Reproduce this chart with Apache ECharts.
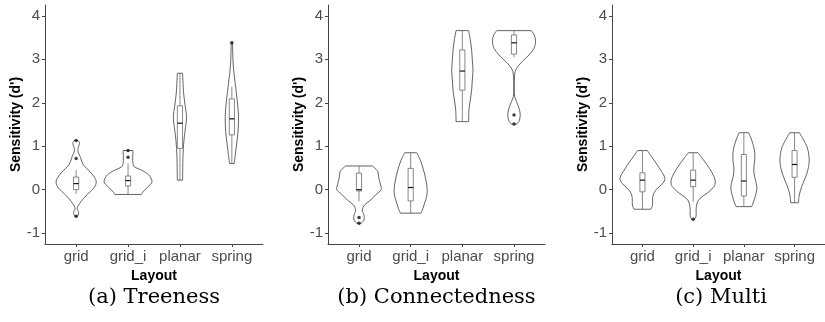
<!DOCTYPE html>
<html>
<head>
<meta charset="utf-8">
<script src="https://cdn.jsdelivr.net/npm/echarts@6/dist/echarts.min.js"></script>
<style>
  html, body { margin: 0; padding: 0; background: #fff; }
  #chart { width: 825px; height: 322px; }
</style>
</head>
<body>
<div id="chart"></div>
<script>
var categories = ['grid', 'grid_i', 'planar', 'spring'];
var yTicks = [-1, 0, 1, 2, 3, 4];
var captions = ['(a) Treeness', '(b) Connectedness', '(c) Multi'];

// violin outlines, top to bottom: [sensitivity, half width in category units]
var treenessViolins = [
  [[1.13, 0.04], [1.07, 0.064], [0.91, 0.032], [0.76, 0.077], [0.57, 0.141], [0.41, 0.27], [0.26, 0.366], [0.15, 0.385], [0.03, 0.334], [-0.12, 0.205], [-0.28, 0.09], [-0.43, 0.02], [-0.53, 0.051], [-0.61, 0.026]],
  [[0.90, 0.096], [0.75, 0.09], [0.60, 0.095], [0.52, 0.13], [0.45, 0.257], [0.34, 0.398], [0.18, 0.462], [0.07, 0.385], [-0.05, 0.289], [-0.11, 0.257]],
  [[2.68, 0.051], [2.22, 0.071], [1.91, 0.103], [1.68, 0.128], [1.45, 0.109], [1.14, 0.077], [0.76, 0.058], [0.22, 0.051]],
  [[3.38, 0.013], [2.87, 0.026], [2.45, 0.064], [2.06, 0.103], [1.68, 0.128], [1.30, 0.116], [0.91, 0.077], [0.60, 0.045]]
];
var connectedViolins = [
  [[0.545, 0.26], [0.47, 0.33], [0.415, 0.366], [0.26, 0.385], [0.11, 0.417], [0.0, 0.43], [-0.12, 0.321], [-0.24, 0.225], [-0.35, 0.109], [-0.47, 0.064], [-0.58, 0.096], [-0.70, 0.096], [-0.77, 0.045]],
  [[0.85, 0.116], [0.68, 0.186], [0.45, 0.25], [0.22, 0.295], [0.0, 0.321], [-0.16, 0.308], [-0.31, 0.27], [-0.43, 0.238], [-0.54, 0.199]],
  [[3.66, 0.122], [3.445, 0.154], [3.215, 0.18], [2.985, 0.193], [2.755, 0.206], [2.524, 0.193], [2.294, 0.18], [2.064, 0.154], [1.834, 0.128], [1.566, 0.122]],
  [[3.66, 0.334], [3.56, 0.392], [3.41, 0.417], [3.25, 0.385], [3.10, 0.289], [2.95, 0.161], [2.83, 0.071], [2.72, 0.022], [2.52, 0.006], [2.29, 0.004], [2.14, 0.013], [2.03, 0.048], [1.91, 0.087], [1.76, 0.119], [1.60, 0.106], [1.51, 0.055]]
];
var multiViolins = [
  [[0.90, 0.096], [0.76, 0.18], [0.61, 0.27], [0.415, 0.379], [0.26, 0.443], [0.15, 0.405], [0.0, 0.27], [-0.12, 0.212], [-0.24, 0.199], [-0.35, 0.199], [-0.45, 0.167]],
  [[0.85, 0.096], [0.68, 0.206], [0.49, 0.321], [0.30, 0.411], [0.18, 0.437], [0.07, 0.411], [-0.08, 0.276], [-0.20, 0.135], [-0.31, 0.077], [-0.47, 0.058], [-0.61, 0.058], [-0.68, 0.026]],
  [[1.31, 0.096], [1.14, 0.154], [0.99, 0.193], [0.84, 0.215], [0.68, 0.215], [0.53, 0.199], [0.38, 0.199], [0.22, 0.228], [0.07, 0.257], [-0.08, 0.241], [-0.24, 0.202], [-0.39, 0.154]],
  [[1.31, 0.096], [1.14, 0.18], [0.99, 0.244], [0.84, 0.276], [0.68, 0.289], [0.53, 0.276], [0.38, 0.244], [0.22, 0.193], [0.07, 0.141], [-0.12, 0.093], [-0.30, 0.077]]
];

// boxplot stats: [lower whisker, q1, median, q3, upper whisker]
var treenessBoxes = [[-0.10, 0.0, 0.14, 0.29, 0.45], [-0.11, 0.085, 0.21, 0.315, 0.60], [0.22, 0.95, 1.53, 1.93, 2.68], [0.60, 1.26, 1.63, 2.09, 2.37]];
var connectedBoxes = [[-0.27, -0.03, 0.0, 0.38, 0.545], [-0.54, -0.26, 0.05, 0.49, 0.85], [1.566, 2.29, 2.73, 3.215, 3.66], [3.05, 3.12, 3.38, 3.56, 3.66]];
var multiBoxes = [[-0.45, -0.05, 0.22, 0.39, 0.90], [-0.28, 0.07, 0.22, 0.45, 0.85], [-0.39, -0.145, 0.2, 0.81, 1.31], [-0.30, 0.285, 0.58, 0.90, 1.31]];

// outliers: [category position, sensitivity]
var treenessOutliers = [[1, 1.13], [1, 0.72], [1, -0.61], [2, 0.90], [2, 0.745], [4, 3.38]];
var connectedOutliers = [[1, -0.64], [1, -0.77], [4, 1.72], [4, 1.51]];
var multiOutliers = [[2, -0.68]];

var panelLeft = [45, 328, 612];
var panelWidth = [218, 217, 218];
var sansFont = 'Liberation Sans, Arial, sans-serif';

var chart = echarts.init(document.getElementById('chart'));

function violinSeries(idx, profiles) {
  return {
    type: 'custom',
    xAxisIndex: idx, yAxisIndex: idx,
    silent: true,
    data: profiles.map(function (p, i) { return [i + 1, p[0][0]]; }),
    renderItem: function (params, api) {
      var prof = profiles[params.dataIndex];
      var x0 = params.dataIndex + 1;
      var left = prof.map(function (d) { return api.coord([x0 - d[1], d[0]]); });
      var right = prof.map(function (d) { return api.coord([x0 + d[1], d[0]]); });
      var n = prof.length - 1;
      var st = { stroke: '#3c3c3c', lineWidth: 0.8, fill: null };
      return {
        type: 'group',
        children: [
          { type: 'polyline', shape: { points: left, smooth: 0.35 }, style: st },
          { type: 'polyline', shape: { points: right, smooth: 0.35 }, style: st },
          { type: 'line', shape: { x1: left[0][0], y1: left[0][1], x2: right[0][0], y2: right[0][1] }, style: st },
          { type: 'line', shape: { x1: left[n][0], y1: left[n][1], x2: right[n][0], y2: right[n][1] }, style: st }
        ]
      };
    }
  };
}

function boxSeries(idx, boxes) {
  return {
    type: 'custom',
    xAxisIndex: idx, yAxisIndex: idx,
    silent: true,
    data: boxes.map(function (b, i) { return [i + 1, b[0], b[1], b[2], b[3], b[4]]; }),
    renderItem: function (params, api) {
      var x0 = api.value(0);
      var lo = api.coord([x0, api.value(1)]);
      var q1 = api.coord([x0 - 0.05, api.value(2)]);
      var md = api.coord([x0, api.value(3)]);
      var q3 = api.coord([x0 + 0.05, api.value(4)]);
      var hi = api.coord([x0, api.value(5)]);
      var st = { stroke: '#6a6a6a', lineWidth: 0.8, fill: null };
      return {
        type: 'group',
        children: [
          { type: 'line', shape: { x1: lo[0], y1: lo[1], x2: lo[0], y2: q1[1] }, style: st },
          { type: 'line', shape: { x1: hi[0], y1: q3[1], x2: hi[0], y2: hi[1] }, style: st },
          { type: 'rect', shape: { x: q1[0], y: q3[1], width: q3[0] - q1[0], height: q1[1] - q3[1] },
            style: { stroke: '#6a6a6a', lineWidth: 0.8, fill: '#fff' } },
          { type: 'line', shape: { x1: q1[0], y1: md[1], x2: q3[0], y2: md[1] }, style: { stroke: '#111', lineWidth: 1.2 } }
        ]
      };
    }
  };
}

function outlierSeries(idx, pts) {
  return {
    type: 'scatter',
    xAxisIndex: idx, yAxisIndex: idx,
    silent: true,
    symbolSize: 3.5,
    itemStyle: { color: '#111' },
    data: pts
  };
}

var grids = [], xAxes = [], yAxes = [], graphics = [];
[0, 1, 2].forEach(function (i) {
  grids.push({ left: panelLeft[i], top: 5, width: panelWidth[i], height: 239 });
  xAxes.push({
    gridIndex: i, type: 'value', min: 0.4, max: 4.6,
    name: 'Layout', nameLocation: 'middle', nameGap: 15,
    nameTextStyle: { fontFamily: sansFont, fontSize: 14, fontWeight: 'bold', color: '#000' },
    axisLine: { onZero: false, lineStyle: { color: '#444', width: 1 } },
    axisTick: { length: 3, lineStyle: { color: '#444' }, customValues: [1, 2, 3, 4] },
    axisLabel: {
      customValues: [1, 2, 3, 4], margin: 5,
      fontFamily: sansFont, fontSize: 15, color: '#4d4d4d',
      formatter: function (v) { return categories[Math.round(v) - 1]; }
    },
    splitLine: { show: false }
  });
  yAxes.push({
    gridIndex: i, type: 'value', min: -1.25, max: 4.25,
    name: "Sensitivity (d')", nameLocation: 'middle', nameGap: 14,
    nameTextStyle: { fontFamily: sansFont, fontSize: 14, fontWeight: 'bold', color: '#000' },
    axisLine: { show: true, onZero: false, lineStyle: { color: '#444', width: 1 } },
    axisTick: { show: true, length: 3, lineStyle: { color: '#444' }, customValues: yTicks },
    axisLabel: { customValues: yTicks, margin: 5, fontFamily: sansFont, fontSize: 15, color: '#4d4d4d' },
    splitLine: { show: false }
  });
  graphics.push({
    type: 'text',
    x: panelLeft[i] + panelWidth[i] / 2, y: 298,
    style: {
      text: captions[i], fill: '#000',
      font: '21px "DejaVu Serif", serif',
      textAlign: 'center', textVerticalAlign: 'middle'
    }
  });
});

chart.setOption({
  animation: false,
  backgroundColor: '#fff',
  grid: grids,
  xAxis: xAxes,
  yAxis: yAxes,
  graphic: graphics,
  series: [
    violinSeries(0, treenessViolins), boxSeries(0, treenessBoxes), outlierSeries(0, treenessOutliers),
    violinSeries(1, connectedViolins), boxSeries(1, connectedBoxes), outlierSeries(1, connectedOutliers),
    violinSeries(2, multiViolins), boxSeries(2, multiBoxes), outlierSeries(2, multiOutliers)
  ]
});
</script>
</body>
</html>
